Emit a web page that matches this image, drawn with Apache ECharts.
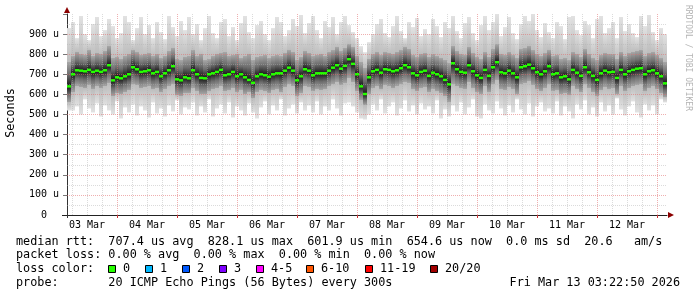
<!DOCTYPE html>
<html><head><meta charset="utf-8">
<script src="https://cdn.jsdelivr.net/npm/echarts@6/dist/echarts.min.js"></script>
<style>html,body{margin:0;padding:0;background:#fff}#c{width:697px;height:297px}</style>
</head><body><div id="c"></div>
<script>
// ---- data (hours counted from 03 Mar 00:00) ----
const startHour = 4;
const stepHours = 1.6;
const median = [
 640,700,720,718,715,722,712,718,712,720, 745,670,685,680,690,700,735,725,712,715, 720,705,712,690,705,720,740,675,670,685,
 680,720,700,682,680,700,705,712,722,695, 700,712,690,700,685,672,658,690,700,695, 688,700,705,705,718,733,718,670,690,725,
 718,695,705,705,705,718,733,745,728,742, 775,752,700,640,602,685,715,722,708,725, 722,715,720,730,745,735,705,695,712,718,
 692,708,700,690,672,650,755,725,712,708, 745,715,695,682,722,692,735,760,710,705, 718,705,685,735,740,748,730,710,700,715,
 740,700,705,685,690,675,722,708,692,735, 710,692,672,705,718,710,712,682,722,700, 715,722,728,730,700,715,720,705,690,655
];
const smokeTop = [
 930,960,880,990,900,870,950,985,890,920, 975,940,880,905,990,960,870,930,985,900, 945,880,960,910,875,990,935,890,965,920,
 985,900,950,870,930,990,905,880,960,975, 890,935,870,955,990,910,880,945,965,900, 870,930,985,960,890,920,975,940,995,905,
 955,990,920,880,965,935,985,900,960,990, 945,910,880,840,810,860,900,950,975,905, 885,940,990,915,880,960,935,980,890,925,
 900,975,940,885,960,930,990,915,880,955, 985,905,870,945,990,920,960,1000,890,935, 985,905,875,950,990,965,1000,920,885,955,
 910,880,960,940,875,985,990,920,895,965, 945,880,975,990,905,930,960,880,985,915, 950,905,885,990,940,995,910,870,930,900
];
const smokeBottom = [
 520,520,540,500,575,530,510,555,490,545, 520,500,565,480,535,510,550,495,540,520, 485,560,505,530,490,545,515,570,500,535,
 525,560,495,540,510,575,490,530,550,505, 560,485,540,520,495,555,510,480,535,565, 500,545,520,575,495,530,550,505,560,520,
 545,510,565,500,540,520,575,530,495,555, 560,540,510,480,475,500,550,520,575,505, 540,560,495,530,570,515,545,500,555,525,
 540,505,570,480,525,490,545,515,560,500, 535,575,490,480,550,520,505,565,530,495, 545,510,575,525,500,555,490,540,560,515,
 530,505,565,495,540,515,480,550,525,570, 500,535,490,560,515,545,500,580,525,495, 540,565,510,485,550,520,545,500,575,560
];
const smokeHigh = [
 760,790,810,800,795,820,790,805,800,815, 840,780,785,775,790,800,820,810,795,800, 805,790,800,780,790,815,830,775,770,785,
 790,820,790,800,770,775,790,800,805,810, 790,795,800,780,790,800,770,785,790,795, 780,790,795,790,805,820,810,770,785,815,
 805,790,795,800,790,810,820,835,815,830, 850,835,790,760,730,775,800,810,795,810, 805,800,810,820,835,825,795,785,800,805,
 785,800,790,780,770,755,840,815,800,795, 835,805,785,775,810,785,825,850,800,795, 810,795,780,825,830,840,820,800,790,805,
 820,790,795,775,780,770,810,800,785,825, 800,780,770,795,805,800,800,775,810,790, 805,810,815,820,790,805,810,795,780,760
];
const smokeLow = [
 560,610,640,635,630,645,625,640,630,640, 655,590,605,600,610,620,650,645,630,635, 640,625,630,610,625,640,650,595,590,605,
 605,630,615,600,600,615,625,630,640,615, 620,630,610,620,600,610,580,610,620,615, 605,620,625,610,635,650,640,590,605,640,
 635,615,625,620,625,640,650,660,645,655, 680,660,615,570,545,600,630,640,625,645, 640,630,640,650,660,655,625,615,630,635,
 610,625,615,605,590,560,650,640,630,625, 660,630,610,600,640,610,650,670,625,620, 635,625,600,650,655,665,645,625,615,630,
 650,615,620,600,605,595,640,625,610,650, 630,610,590,620,635,625,630,600,640,615, 630,640,645,650,615,630,640,625,605,585
];
const dayLabels = ['03 Mar','04 Mar','05 Mar','06 Mar','07 Mar','08 Mar','09 Mar','10 Mar','11 Mar','12 Mar'];
const dayLabelHours = [12,36,60,84,108,132,156,180,204,228];
const dayLineHours = [24,48,72,96,120,144,168,192,216,240];
const yTickValues = [0,100,200,300,400,500,600,700,800,900];
const yTickLabels = ['0  ','100 u','200 u','300 u','400 u','500 u','600 u','700 u','800 u','900 u'];
const statLines = [
 'median rtt:  707.4 us avg  828.1 us max  601.9 us min  654.6 us now  0.0 ms sd  20.6   am/s',
 'packet loss: 0.00 % avg  0.00 % max  0.00 % min  0.00 % now',
 'loss color:',
 'probe:       20 ICMP Echo Pings (56 Bytes) every 300s'
];
const dateText = 'Fri Mar 13 03:22:50 2026';
const lossLabels = ['0','1','2','3','4-5','6-10','11-19','20/20'];
const lossColors = ['#26ff00','#00b8ff','#0059ff','#7e00ff','#ff00ff','#ff5500','#ff0000','#a10000'];

// ---- layout / style ----
const xMin = 4, xMax = 244;
const mono = '"DejaVu Sans Mono", monospace';
const legendFont = '11.8px ' + mono;
const lossBoxX = [108.5,145.5,182.5,219.5,256.5,306.5,365.5,430.5];
const lineY = [241.5,255.2,269,282.7];
const majorGridColor = 'rgba(225,110,110,0.55)';
const minorGridColor = 'rgba(175,175,175,0.45)';

const rows = median.map((m,i)=>[startHour + stepHours*(i+0.5), smokeBottom[i], smokeLow[i], m, smokeHigh[i], smokeTop[i]]);

const gridLines = [];
for (let h = 6; h < xMax; h += 6) {
  if (h <= xMin) continue;
  const major = h % 24 === 0;
  gridLines.push({xAxis: h, lineStyle: {color: major ? majorGridColor : minorGridColor, type: [1,1], width: 1}});
}
for (let v = 50; v < 1000; v += 50) {
  const major = v % 100 === 0;
  gridLines.push({yAxis: v, lineStyle: {color: major ? majorGridColor : minorGridColor, type: [1,1], width: 1}});
}

function smokeItem(params, api) {
  const t = api.value(0), half = stepHours/2;
  const xL = api.coord([t-half, 0])[0], xR = api.coord([t+half, 0])[0];
  const yB = api.coord([t, api.value(1)])[1];
  const yLo = api.coord([t, api.value(2)])[1];
  const yMed = api.coord([t, api.value(3)])[1];
  const yHi = api.coord([t, api.value(4)])[1];
  const yT = api.coord([t, api.value(5)])[1];
  const h = yB - yT;
  const f = y => Math.min(1, Math.max(0, (y - yT)/h));
  const midHi = (yHi + yMed)/2, midLo = (yLo + yMed)/2;
  return {type:'rect', shape:{x:xL, y:yT, width:xR-xL, height:h},
    style:{fill: new echarts.graphic.LinearGradient(0,0,0,1,[
      {offset:0,color:'#e2e2e2'},
      {offset:f(yHi),color:'#bdbdbd'},
      {offset:f(yHi),color:'#a6a6a6'},
      {offset:f(midHi),color:'#6e6e6e'},
      {offset:f(yMed),color:'#161616'},
      {offset:f(midLo),color:'#6e6e6e'},
      {offset:f(yLo),color:'#a6a6a6'},
      {offset:f(yLo),color:'#bdbdbd'},
      {offset:1,color:'#e2e2e2'}])}};
}
function medianItem(params, api) {
  const t = api.value(0), half = stepHours/2;
  const xL = api.coord([t-half, 0])[0], xR = api.coord([t+half, 0])[0];
  const yMed = api.coord([t, api.value(3)])[1];
  return {type:'rect', shape:{x:xL, y:yMed-1.25, width:xR-xL, height:2.5}, style:{fill: lossColors[0]}};
}

const graphics = [
  {type:'polygon', shape:{points:[[64,13],[70,13],[67,7]]}, style:{fill:'#8b0000'}, z:100},
  {type:'polygon', shape:{points:[[668,212],[668,218],[674,215]]}, style:{fill:'#8b0000'}, z:100},
  {type:'line', shape:{x1:62,y1:215.5,x2:67,y2:215.5}, style:{stroke:'#222',lineWidth:1}, z:100},
  {type:'line', shape:{x1:67.5,y1:215,x2:67.5,y2:218}, style:{stroke:'#333',lineWidth:1}, z:100},
  {type:'text', x:11, y:113, rotation:Math.PI/2, style:{text:'Seconds', font:legendFont, fill:'#000', align:'center', verticalAlign:'middle'}},
  {type:'text', x:688, y:5, rotation:-Math.PI/2, style:{text:'RRDTOOL / TOBI OETIKER', font:'8px '+mono, fill:'#b4b4b4', align:'left', verticalAlign:'middle'}},
  {type:'text', x:680, y:lineY[3], style:{text:dateText, font:legendFont, fill:'#000', align:'right', verticalAlign:'middle'}}
];
statLines.forEach((s,i)=>graphics.push({type:'text', x:16, y:lineY[i], style:{text:s, font:legendFont, fill:'#000', align:'left', verticalAlign:'middle'}}));
lossLabels.forEach((l,i)=>{
  graphics.push({type:'rect', shape:{x:lossBoxX[i], y:265.5, width:7, height:7}, style:{fill:lossColors[i], stroke:'#000', lineWidth:1}});
  graphics.push({type:'text', x:lossBoxX[i]+14.5, y:lineY[2], style:{text:l, font:legendFont, fill:'#000', align:'left', verticalAlign:'middle'}});
});

const chart = echarts.init(document.getElementById('c'), null, {renderer:'canvas'});
chart.setOption({
  animation:false,
  backgroundColor:'#fff',
  grid:{left:67, right:30, top:14, bottom:82},
  xAxis:{type:'value', min:xMin, max:xMax,
    axisLine:{show:true, lineStyle:{color:'#222', width:1}},
    axisTick:{show:true, customValues:dayLineHours, length:3, lineStyle:{color:'#cc3333'}},
    axisLabel:{customValues:dayLabelHours, formatter:v=>dayLabels[dayLabelHours.indexOf(v)] || '', fontFamily:mono, fontSize:10, color:'#000', margin:5},
    splitLine:{show:false}},
  yAxis:{type:'value', min:0, max:1000, interval:100,
    axisLine:{show:true, lineStyle:{color:'#333', width:1}},
    axisTick:{show:true, length:4, lineStyle:{color:'#777'}},
    axisLabel:{formatter:v=>{const k=yTickValues.indexOf(v); return k>=0 ? yTickLabels[k] : '';}, fontFamily:mono, fontSize:10, color:'#000', margin:8},
    splitLine:{show:false}},
  graphic:graphics,
  series:[
    {type:'custom', renderItem:smokeItem, data:rows, z:2, silent:true, clip:true,
     encode:{x:0, y:[1,5]},
     markLine:{silent:true, symbol:['none','none'], label:{show:false}, animation:false, data:gridLines}},
    {type:'custom', renderItem:medianItem, data:rows, z:10, silent:true, clip:true, encode:{x:0, y:3}}
  ]
});
</script></body></html>
